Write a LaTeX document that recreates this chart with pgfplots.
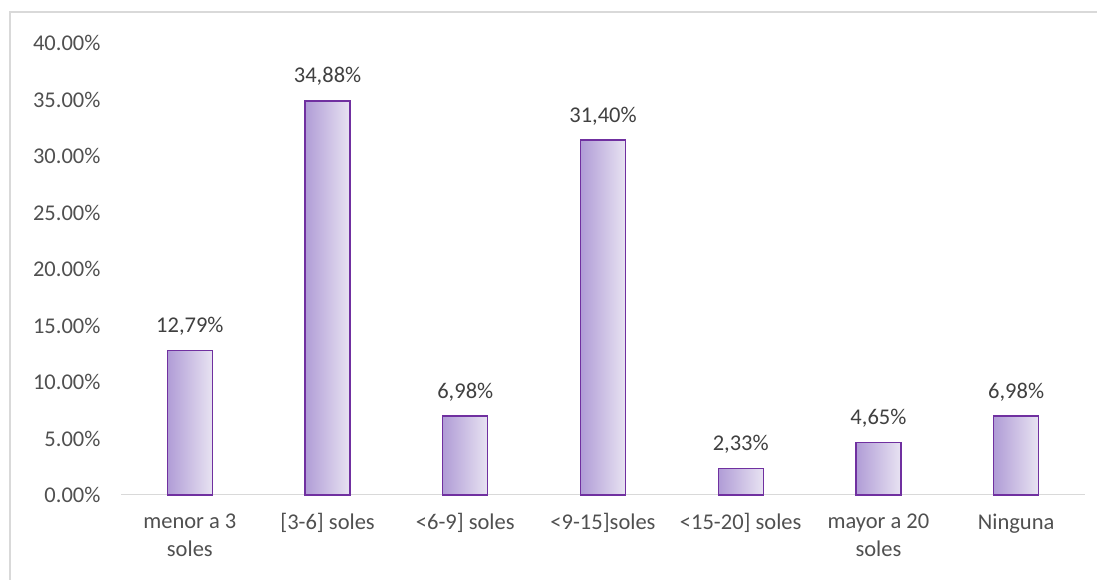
\documentclass[border=0pt]{standalone}
\usepackage{pgfplots}
\pgfplotsset{compat=1.18}
\usepackage{fontspec}
\setmainfont{Carlito}
\definecolor{txt}{RGB}{80,80,80}
\definecolor{lbl}{RGB}{64,64,64}
\definecolor{barL}{RGB}{176,156,214}
\definecolor{barR}{RGB}{232,227,242}
\definecolor{barE}{RGB}{112,48,160}
\definecolor{axl}{RGB}{217,217,217}
\tikzset{mybar/.style={draw=barE, line width=1.4pt, left color=barL, right color=barR}}
\begin{document}
\begin{tikzpicture}[x=1pt,y=1pt]
\path[use as bounding box] (0,0) rectangle (1097,580);
\draw[color=axl, line width=1.5pt] (10,-2) -- (10,568) -- (1099,568);
\begin{axis}[
  at={(121pt,85pt)}, anchor=south west,
  scale only axis, width=964pt, height=452pt,
  xmin=-0.5, xmax=6.5, ymin=0, ymax=40,
  axis x line*=bottom, axis y line*=left,
  x axis line style={draw=axl, line width=1pt},
  y axis line style={draw=none},
  major tick length=0pt,
  xtick={0,1,2,3,4,5,6},
  xticklabels={{menor a 3\\soles},{[3-6] soles},{<6-9] soles},{<9-15]soles},{<15-20] soles},{mayor a 20\\soles},{Ninguna}},
  x tick label style={font=\fontsize{22.5}{28}\selectfont, text=txt, align=center, anchor=north, yshift=-15pt},
  ytick={0,5,...,40},
  yticklabel={\pgfmathprintnumber[fixed,fixed zerofill,precision=2]{\tick}\%},
  y tick label style={font=\fontsize{22.5}{28}\selectfont, text=txt, anchor=east, xshift=-17pt},
  /pgf/number format/assume math mode=true,
  ybar, bar width=45pt, bar shift=0pt,
  nodes near coords={\pgfmathprintnumber[fixed,fixed zerofill,precision=2,use comma]{\pgfplotspointmeta}\%},
  every node near coord/.append style={font=\fontsize{22.5}{28}\selectfont, text=lbl, yshift=11pt},
  clip=false,
]
\addplot[mybar] coordinates {(0,12.79)};
\addplot[mybar] coordinates {(1,34.88)};
\addplot[mybar] coordinates {(2,6.98)};
\addplot[mybar] coordinates {(3,31.40)};
\addplot[mybar] coordinates {(4,2.33)};
\addplot[mybar] coordinates {(5,4.65)};
\addplot[mybar] coordinates {(6,6.98)};
\end{axis}
\end{tikzpicture}
\end{document}
